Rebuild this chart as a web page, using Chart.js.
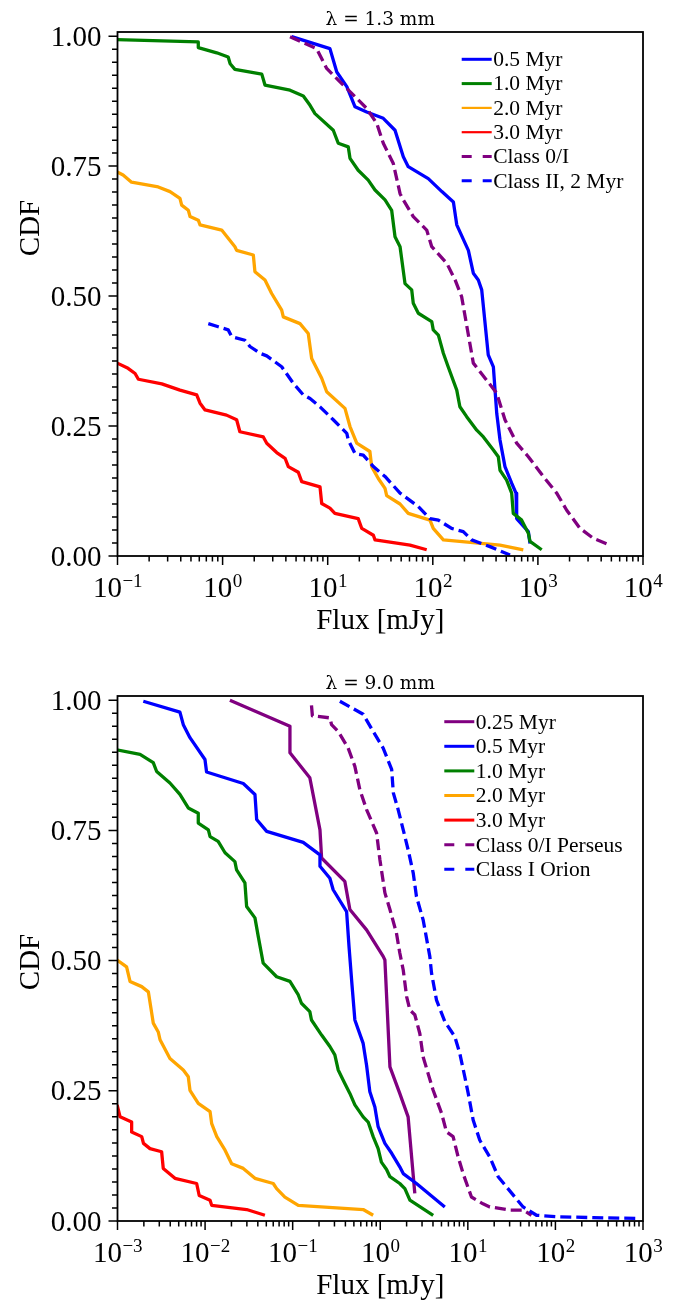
<!DOCTYPE html>
<html>
<head>
<meta charset="utf-8">
<script src="https://cdn.jsdelivr.net/npm/chart.js@4.4.1/dist/chart.umd.min.js"></script>
<style>
  html, body { margin: 0; padding: 0; background: #fff; }
  canvas { display: block; }
</style>
</head>
<body>
<canvas id="cdf13" width="682" height="650"></canvas>
<canvas id="cdf90" width="682" height="651"></canvas>
<script>
// lambda = 1.3 mm
const flux13_05 = [4.54, 10.5, 12.2, 15.2, 18.2, 23.5, 33.8, 43.7, 52.4, 58.4, 90.6, 122, 157, 169, 218, 243, 271, 292, 337, 377, 391, 406, 436, 486, 563, 619, 628, 811, 841];
const cdf13_05 = [0.999, 0.976, 0.931, 0.903, 0.864, 0.854, 0.842, 0.819, 0.768, 0.749, 0.726, 0.701, 0.681, 0.637, 0.588, 0.544, 0.531, 0.512, 0.387, 0.364, 0.319, 0.274, 0.223, 0.172, 0.140, 0.121, 0.072, 0.047, 0.024];
const flux13_10 = [0.08, 0.587, 0.587, 0.879, 1.13, 1.18, 1.31, 2.36, 2.53, 4.38, 5.86, 6.79, 7.57, 11.3, 12.6, 15.7, 16.3, 19.5, 24.3, 28.2, 35.1, 40.6, 43.7, 48.8, 54.4, 63, 65.2, 72.8, 97.7, 101, 113, 126, 140, 169, 181, 210, 262, 303, 377, 420, 436, 504, 563, 583, 701, 811, 841, 1087];
const cdf13_10 = [0.994, 0.989, 0.978, 0.968, 0.960, 0.947, 0.936, 0.927, 0.906, 0.896, 0.885, 0.867, 0.851, 0.819, 0.794, 0.787, 0.765, 0.742, 0.723, 0.704, 0.685, 0.665, 0.614, 0.595, 0.524, 0.512, 0.486, 0.467, 0.451, 0.435, 0.425, 0.390, 0.364, 0.319, 0.287, 0.268, 0.242, 0.229, 0.204, 0.191, 0.165, 0.146, 0.121, 0.082, 0.069, 0.044, 0.028, 0.012];
const flux13_20 = [0.095, 0.113, 0.136, 0.244, 0.316, 0.393, 0.408, 0.472, 0.490, 0.587, 0.610, 0.980, 1.31, 1.36, 1.96, 2.03, 2.53, 2.93, 3.65, 3.78, 5.45, 6.53, 7.04, 8.77, 9.78, 14.6, 16.3, 18.9, 25.2, 26.2, 30.3, 35.1, 36.4, 48.8, 58.4, 94, 101, 126, 436, 726];
const cdf13_20 = [0.741, 0.733, 0.719, 0.710, 0.701, 0.688, 0.675, 0.665, 0.653, 0.646, 0.637, 0.627, 0.595, 0.588, 0.579, 0.547, 0.531, 0.505, 0.473, 0.460, 0.447, 0.428, 0.380, 0.342, 0.316, 0.284, 0.249, 0.217, 0.201, 0.172, 0.149, 0.130, 0.116, 0.100, 0.082, 0.069, 0.053, 0.031, 0.021, 0.012];
const flux13_30 = [0.095, 0.126, 0.147, 0.158, 0.264, 0.393, 0.567, 0.610, 0.681, 1.09, 1.36, 1.46, 2.44, 2.63, 3.27, 3.93, 4.22, 5.25, 5.66, 8.45, 8.77, 10.5, 11.7, 19.5, 21.1, 27.2, 28.2, 48.8, 60.7, 87.5];
const cdf13_30 = [0.373, 0.361, 0.351, 0.340, 0.331, 0.319, 0.310, 0.294, 0.281, 0.271, 0.262, 0.239, 0.229, 0.217, 0.199, 0.188, 0.172, 0.161, 0.143, 0.133, 0.101, 0.092, 0.082, 0.072, 0.053, 0.040, 0.031, 0.024, 0.021, 0.012];
const flux13_c0 = [4.38, 7.85, 9.78, 13.1, 17.5, 23.5, 29.3, 33.8, 42.1, 48.8, 52.4, 65.2, 87.5, 97.7, 136, 163, 188, 243, 326, 406, 486, 628, 811, 1125, 1510, 1880, 2520, 3370, 4850];
const cdf13_c0 = [0.999, 0.976, 0.938, 0.912, 0.887, 0.861, 0.832, 0.794, 0.755, 0.697, 0.685, 0.653, 0.627, 0.595, 0.563, 0.531, 0.499, 0.371, 0.338, 0.313, 0.262, 0.217, 0.191, 0.153, 0.121, 0.088, 0.053, 0.034, 0.021];
const flux13_c2 = [0.731, 0.910, 1.13, 1.22, 1.63, 1.82, 2.27, 2.63, 3.65, 4.71, 5.86, 6.79, 8.45, 11.3, 13.1, 15.2, 15.7, 18.2, 21.8, 27.2, 35.1, 48.8, 72.8, 94, 113, 151, 195, 234, 350, 543];
const cdf13_c2 = [0.447, 0.441, 0.435, 0.422, 0.415, 0.403, 0.390, 0.385, 0.364, 0.332, 0.310, 0.303, 0.287, 0.262, 0.249, 0.236, 0.223, 0.197, 0.194, 0.172, 0.153, 0.121, 0.095, 0.072, 0.069, 0.053, 0.047, 0.031, 0.018, 0.002];

// lambda = 9.0 mm
const flux90_025 = [0.0192, 0.0931, 0.0931, 0.157, 0.205, 0.214, 0.394, 0.450, 0.698, 1.08, 1.13, 1.29, 1.67, 2.08, 2.48];
const cdf90_025 = [1.0, 0.950, 0.899, 0.851, 0.751, 0.697, 0.652, 0.598, 0.559, 0.508, 0.501, 0.296, 0.245, 0.200, 0.053];
const flux90_05 = [0.00197, 0.00516, 0.00564, 0.00672, 0.00997, 0.0104, 0.0273, 0.0371, 0.0388, 0.0505, 0.132, 0.205, 0.205, 0.266, 0.290, 0.413, 0.440, 0.475, 0.513, 0.638, 0.698, 0.761, 0.868, 0.946, 1.13, 1.35, 1.67, 1.83, 2.59, 5.46];
const cdf90_05 = [0.998, 0.977, 0.953, 0.928, 0.886, 0.862, 0.840, 0.819, 0.771, 0.748, 0.727, 0.703, 0.681, 0.658, 0.636, 0.594, 0.527, 0.455, 0.386, 0.341, 0.299, 0.248, 0.219, 0.181, 0.149, 0.130, 0.104, 0.091, 0.072, 0.027];
const flux90_10 = [0.0009, 0.00181, 0.00256, 0.00280, 0.00397, 0.00516, 0.00643, 0.00836, 0.00836, 0.0109, 0.0114, 0.0141, 0.0169, 0.0219, 0.0229, 0.0285, 0.0298, 0.0371, 0.0405, 0.0461, 0.0656, 0.0931, 0.116, 0.126, 0.157, 0.164, 0.214, 0.266, 0.303, 0.331, 0.394, 0.450, 0.513, 0.638, 0.728, 0.830, 0.946, 1.03, 1.18, 1.29, 1.67, 1.91, 2.18, 4.02];
const cdf90_10 = [0.906, 0.896, 0.880, 0.863, 0.841, 0.819, 0.793, 0.783, 0.764, 0.751, 0.738, 0.729, 0.707, 0.690, 0.674, 0.649, 0.604, 0.582, 0.546, 0.495, 0.469, 0.460, 0.434, 0.418, 0.402, 0.386, 0.357, 0.335, 0.319, 0.290, 0.264, 0.245, 0.223, 0.200, 0.190, 0.162, 0.139, 0.113, 0.099, 0.085, 0.072, 0.062, 0.040, 0.011];
const flux90_20 = [0.00099, 0.00127, 0.00139, 0.00189, 0.00225, 0.00256, 0.00292, 0.00306, 0.00397, 0.00564, 0.00643, 0.00672, 0.00836, 0.0114, 0.0119, 0.0136, 0.0169, 0.0201, 0.0273, 0.0371, 0.0600, 0.0656, 0.0815, 0.116, 0.638, 0.830];
const cdf90_20 = [0.501, 0.488, 0.460, 0.450, 0.440, 0.380, 0.363, 0.348, 0.312, 0.290, 0.277, 0.251, 0.226, 0.210, 0.187, 0.162, 0.136, 0.110, 0.101, 0.082, 0.072, 0.062, 0.046, 0.030, 0.022, 0.011];
const flux90_30 = [0.00099, 0.00107, 0.00145, 0.00145, 0.00189, 0.00198, 0.00235, 0.00319, 0.00333, 0.00453, 0.00801, 0.00857, 0.0114, 0.0119, 0.0298, 0.0482];
const cdf90_30 = [0.223, 0.200, 0.190, 0.171, 0.162, 0.149, 0.139, 0.133, 0.101, 0.082, 0.072, 0.049, 0.040, 0.030, 0.022, 0.011];
const flux90_c0 = [0.164, 0.168, 0.266, 0.278, 0.331, 0.430, 0.513, 0.585, 0.698, 0.908, 0.990, 1.13, 1.29, 1.53, 1.67, 1.83, 2.00, 2.18, 2.48, 2.83, 3.09, 3.52, 4.02, 5.01, 5.71, 6.79, 7.75, 8.84, 11.0, 14.9, 17.8, 30.1, 42.8, 53.3];
const cdf90_c0 = [0.990, 0.970, 0.966, 0.953, 0.940, 0.908, 0.873, 0.828, 0.790, 0.745, 0.694, 0.630, 0.598, 0.553, 0.515, 0.482, 0.431, 0.405, 0.396, 0.360, 0.315, 0.283, 0.251, 0.207, 0.171, 0.162, 0.123, 0.091, 0.046, 0.033, 0.027, 0.021, 0.021, 0.011];
const flux90_c1 = [0.346, 0.638, 0.830, 1.08, 1.35, 1.41, 1.60, 1.83, 2.08, 2.38, 2.59, 3.09, 3.68, 3.85, 4.39, 5.46, 7.10, 8.09, 9.23, 10.1, 11.5, 13.7, 17.8, 22.2, 34.4, 42.8, 60.8, 112, 269, 900];
const cdf90_c1 = [0.998, 0.973, 0.940, 0.908, 0.867, 0.822, 0.790, 0.751, 0.713, 0.668, 0.623, 0.578, 0.508, 0.476, 0.424, 0.383, 0.354, 0.322, 0.277, 0.245, 0.194, 0.155, 0.123, 0.085, 0.046, 0.027, 0.011, 0.008, 0.0065, 0.005];

const yTickValues = [0, 0.25, 0.5, 0.75, 1];
const yTickLabels = ['0.00', '0.25', '0.50', '0.75', '1.00'];
const xExp13 = [-1, 0, 1, 2, 3, 4];
const xExp90 = [-3, -2, -1, 0, 1, 2, 3];

const BLUE = '#0000ff', GREEN = '#008000', ORANGE = '#ffa500', RED = '#ff0000', PURPLE = '#800080';
const SERIF = '"Liberation Serif", "Times New Roman", serif';

const series13 = [
  { label: '0.5 Myr', x: flux13_05, y: cdf13_05, color: BLUE },
  { label: '1.0 Myr', x: flux13_10, y: cdf13_10, color: GREEN },
  { label: '2.0 Myr', x: flux13_20, y: cdf13_20, color: ORANGE, legendWidth: 2.2 },
  { label: '3.0 Myr', x: flux13_30, y: cdf13_30, color: RED, legendWidth: 2.2 },
  { label: 'Class 0/I', x: flux13_c0, y: cdf13_c0, color: PURPLE, dash: true },
  { label: 'Class II, 2 Myr', x: flux13_c2, y: cdf13_c2, color: BLUE, dash: true }
];
const series90 = [
  { label: '0.25 Myr', x: flux90_025, y: cdf90_025, color: PURPLE },
  { label: '0.5 Myr', x: flux90_05, y: cdf90_05, color: BLUE },
  { label: '1.0 Myr', x: flux90_10, y: cdf90_10, color: GREEN },
  { label: '2.0 Myr', x: flux90_20, y: cdf90_20, color: ORANGE },
  { label: '3.0 Myr', x: flux90_30, y: cdf90_30, color: RED },
  { label: 'Class 0/I Perseus', x: flux90_c0, y: cdf90_c0, color: PURPLE, dash: true },
  { label: 'Class I Orion', x: flux90_c1, y: cdf90_c1, color: BLUE, dash: true }
];

// frame, ticks, labels and legend in matplotlib style
const decor = {
  id: 'decor',
  afterDraw(chart, args, o) {
    const { ctx, chartArea: a, scales: { x, y } } = chart;
    ctx.save();
    ctx.strokeStyle = '#000';
    ctx.fillStyle = '#000';

    // minor + major ticks
    ctx.lineWidth = 1.5;
    ctx.beginPath();
    for (let i = 0; i <= 40; i++) {
      const py = y.getPixelForValue(i / 40);
      const len = i % 10 === 0 ? 9 : 5.5;
      ctx.moveTo(a.left - len, py);
      ctx.lineTo(a.left, py);
    }
    const e0 = o.exps[0], e1 = o.exps[o.exps.length - 1];
    for (let e = e0; e <= e1; e++) {
      for (let k = 1; k <= 9; k++) {
        const v = k * Math.pow(10, e);
        if (v > x.max * 1.0001) continue;
        const px = x.getPixelForValue(v);
        const len = k === 1 ? 9 : 5.5;
        ctx.moveTo(px, a.bottom);
        ctx.lineTo(px, a.bottom + len);
      }
    }
    ctx.stroke();

    // frame
    ctx.lineWidth = 1.8;
    ctx.strokeRect(a.left, a.top, a.right - a.left, a.bottom - a.top);

    // y tick labels
    ctx.font = '29px ' + SERIF;
    ctx.textAlign = 'right';
    ctx.textBaseline = 'alphabetic';
    yTickValues.forEach((v, i) => {
      ctx.fillText(yTickLabels[i], a.left - 16, y.getPixelForValue(v) + 9.5);
    });

    // x tick labels 10^n
    ctx.textAlign = 'left';
    o.exps.forEach(e => {
      const px = x.getPixelForValue(Math.pow(10, e));
      const sup = (e < 0 ? '\u2212' : '') + Math.abs(e);
      ctx.font = '29px ' + SERIF;
      const wb = ctx.measureText('10').width;
      ctx.font = '19px ' + SERIF;
      const ws = ctx.measureText(sup).width;
      const x0 = px - (wb + ws) / 2;
      const base = a.bottom + 41;
      ctx.font = '29px ' + SERIF;
      ctx.fillText('10', x0, base);
      ctx.font = '19px ' + SERIF;
      ctx.fillText(sup, x0 + wb + 0.5, base - 10);
    });

    // axis titles
    ctx.font = '29px ' + SERIF;
    ctx.textAlign = 'center';
    ctx.textBaseline = 'middle';
    ctx.fillText('Flux [mJy]', (a.left + a.right) / 2, a.bottom + 65);
    ctx.save();
    ctx.translate(31, o.cdfY);
    ctx.rotate(-Math.PI / 2);
    ctx.fillText('CDF', 0, 0);
    ctx.restore();

    // title
    ctx.font = '18.5px "DejaVu Serif", serif';
    ctx.textBaseline = 'alphabetic';
    ctx.fillText(o.title, (a.left + a.right) / 2, a.top - 7);

    // legend
    ctx.textAlign = 'left';
    ctx.font = '21.5px ' + SERIF;
    chart.data.datasets.forEach((ds, i) => {
      const ly = o.legY + i * o.legDy;
      ctx.beginPath();
      ctx.strokeStyle = ds.borderColor;
      ctx.lineWidth = ds.legendWidth || 3;
      ctx.setLineDash(ds.borderDash.length ? [10, 11] : []);
      ctx.moveTo(o.legX, ly);
      ctx.lineTo(o.legX + 30, ly);
      ctx.stroke();
      ctx.setLineDash([]);
      ctx.fillText(ds.label, o.legX + 31.5, ly + 6.8);
    });
    ctx.restore();
  }
};

function makeChart(id, series, cfg) {
  const n = series.length;
  return new Chart(document.getElementById(id), {
    type: 'line',
    data: {
      datasets: series.map((s, i) => ({
        label: s.label,
        data: s.x.map((v, j) => ({ x: v, y: s.y[j] })),
        borderColor: s.color,
        borderWidth: 3.3,
        borderDash: s.dash ? [11, 5] : [],
        borderJoinStyle: 'round',
        legendWidth: s.legendWidth,
        pointRadius: 0,
        tension: 0,
        fill: false,
        order: n - i
      }))
    },
    options: {
      responsive: false,
      animation: false,
      events: [],
      layout: { padding: cfg.pad },
      scales: {
        x: { type: 'logarithmic', min: cfg.xMin, max: cfg.xMax, display: false },
        y: { type: 'linear', min: 0, max: 1.008, display: false }
      },
      plugins: { legend: { display: false }, tooltip: { enabled: false }, decor: cfg }
    },
    plugins: [decor]
  });
}

makeChart('cdf13', series13, {
  pad: { left: 117.5, top: 32, right: 39, bottom: 94 },
  xMin: 0.1, xMax: 1e4, exps: xExp13,
  title: '\u03bb = 1.3 mm', cdfY: 228,
  legX: 461.7, legY: 59.3, legDy: 24.3
});
makeChart('cdf90', series90, {
  pad: { left: 117.5, top: 46, right: 39, bottom: 80 },
  xMin: 1e-3, xMax: 1e3, exps: xExp90,
  title: '\u03bb = 9.0 mm', cdfY: 312,
  legX: 444.3, legY: 71.7, legDy: 24.6
});
</script>
</body>
</html>
